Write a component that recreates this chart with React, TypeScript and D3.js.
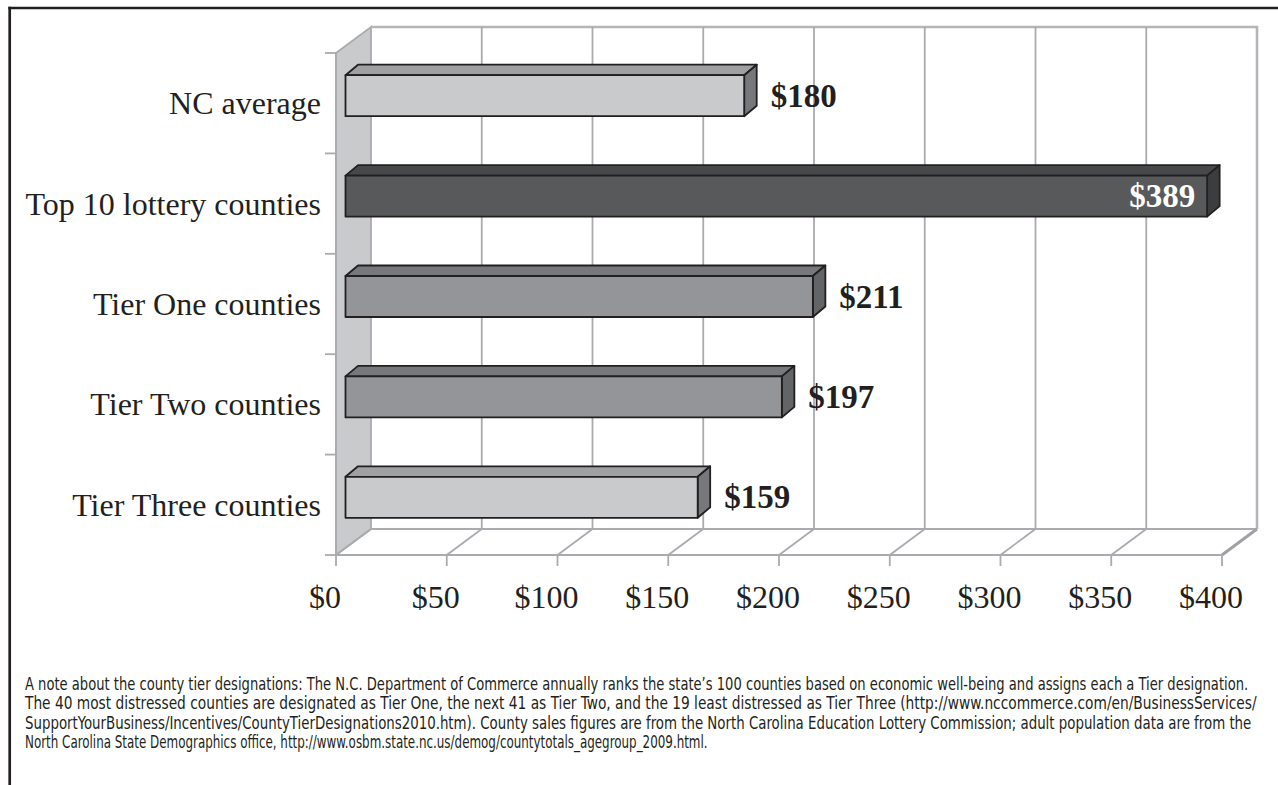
import React, { useEffect, useRef, useState } from "react";
import * as d3 from "d3";

const categories = [
  "NC average",
  "Top 10 lottery counties",
  "Tier One counties",
  "Tier Two counties",
  "Tier Three counties",
];
const values = [180, 389, 211, 197, 159];
const tickValues = [0, 50, 100, 150, 200, 250, 300, 350, 400];
const tickLabels = ["$0", "$50", "$100", "$150", "$200", "$250", "$300", "$350", "$400"];
const valueLabels = ["$180", "$389", "$211", "$197", "$159"];
const labelInside = [false, true, false, false, false];
const noteLines = [
  "A note about the county tier designations: The N.C. Department of Commerce annually ranks the state\u2019s 100 counties based on economic well-being and assigns each a Tier designation.",
  "The 40 most distressed counties are designated as Tier One, the next 41 as Tier Two, and the 19 least distressed as Tier Three (http://www.nccommerce.com/en/BusinessServices/",
  "SupportYourBusiness/Incentives/CountyTierDesignations2010.htm). County sales figures are from the North Carolina Education Lottery Commission; adult population data are from the",
  "North Carolina State Demographics office, http://www.osbm.state.nc.us/demog/countytotals_agegroup_2009.html.",
];
const noteWidths = [1223, 1232, 1226, 683];

// palettes: [front, top, side]
const shadeLight = ["#c9cacc", "#9fa0a2", "#77787b"];
const shadeDark = ["#58595b", "#47484a", "#3c3d3f"];
const shadeMid = ["#939598", "#77787b", "#636466"];
const barShades = [shadeLight, shadeDark, shadeMid, shadeMid, shadeLight];

const W = 1278;
const H = 785;
const FRONT_LEFT = 336;
const FRONT_RIGHT = 1222;
const TOP = 53;
const BOTTOM = 555;
const DX = 35;
const DY = -26;
const BAR_OFF_X = 9.5;
const BAR_OFF_Y = -7.5;
const BAR_DX = 12.5;
const BAR_DY = -10.5;
const BAR_H = 41;

const GRID = "#a9abae";
const OUTLINE = "#231f20";
const SERIF = "'Liberation Serif', 'Times New Roman', serif";
const NOTE_FONT = "'Liberation Sans Narrow', 'DejaVu Sans Condensed', 'Roboto', 'Liberation Sans', sans-serif";

function NoteLine({ text, width, x, y }: { text: string; width: number; x: number; y: number }) {
  const ref = useRef<SVGTextElement | null>(null);
  const [sx, setSx] = useState(0.8);
  useEffect(() => {
    if (ref.current) {
      const natural = ref.current.getComputedTextLength();
      if (natural > 0) setSx(width / natural);
    }
  }, [text, width]);
  return (
    <g transform={`translate(${x},${y}) scale(${sx},1)`}>
      <text ref={ref} x={0} y={0} fontFamily={NOTE_FONT} fontSize={16.8} fill={OUTLINE}>
        {text}
      </text>
    </g>
  );
}

export default function App() {
  const x = d3.scaleLinear().domain([0, 400]).range([FRONT_LEFT, FRONT_RIGHT]);
  const y = d3.scaleBand<string>().domain(categories).range([TOP, BOTTOM]).paddingInner(0).paddingOuter(0);
  const bw = y.bandwidth();
  const boundaries = d3.range(categories.length + 1).map((i) => TOP + i * bw);
  const pts = (arr: number[][]) => arr.map((p) => p.join(",")).join(" ");

  return (
    <svg
      width={W}
      height={H}
      viewBox={`0 0 ${W} ${H}`}
      style={{ position: "absolute", left: 0, top: 0, background: "#ffffff" }}
    >
      <rect x={0} y={0} width={W} height={H} fill="#ffffff" />
      {/* frame */}
      <line x1={8.3} y1={8} x2={W} y2={8} stroke={OUTLINE} strokeWidth={2.7} />
      <line x1={9.7} y1={6.7} x2={9.7} y2={H} stroke={OUTLINE} strokeWidth={2.7} />

      {/* left wall */}
      <polygon
        points={pts([
          [FRONT_LEFT, TOP],
          [FRONT_LEFT + DX, TOP + DY],
          [FRONT_LEFT + DX, BOTTOM + DY],
          [FRONT_LEFT, BOTTOM],
        ])}
        fill="#c9cacc"
        stroke={GRID}
        strokeWidth={1.8}
      />
      {/* back wall outline top and right */}
      <polyline
        points={pts([
          [FRONT_LEFT + DX, TOP + DY],
          [FRONT_RIGHT + DX, TOP + DY],
          [FRONT_RIGHT + DX, BOTTOM + DY],
        ])}
        fill="none"
        stroke="#b3b5b8"
        strokeWidth={2.6}
      />
      {/* back wall vertical gridlines */}
      {tickValues.slice(1, -1).map((t) => (
        <line
          key={"g" + t}
          x1={x(t) + DX}
          y1={TOP + DY}
          x2={x(t) + DX}
          y2={BOTTOM + DY}
          stroke={GRID}
          strokeWidth={1.8}
        />
      ))}
      {/* floor back line */}
      <line
        x1={FRONT_LEFT + DX}
        y1={BOTTOM + DY}
        x2={FRONT_RIGHT + DX}
        y2={BOTTOM + DY}
        stroke={GRID}
        strokeWidth={1.8}
      />
      {/* floor diagonals */}
      {tickValues.map((t, i) => (
        <line
          key={"d" + t}
          x1={x(t)}
          y1={BOTTOM}
          x2={x(t) + DX}
          y2={BOTTOM + DY}
          stroke={i === tickValues.length - 1 ? "#9fa1a4" : GRID}
          strokeWidth={i === tickValues.length - 1 ? 3 : 1.8}
        />
      ))}
      {/* front axis */}
      <line x1={FRONT_LEFT} y1={BOTTOM} x2={FRONT_RIGHT} y2={BOTTOM} stroke={GRID} strokeWidth={2} />
      {tickValues.map((t) => (
        <line key={"t" + t} x1={x(t)} y1={BOTTOM} x2={x(t)} y2={BOTTOM + 11} stroke={GRID} strokeWidth={1.8} />
      ))}
      {/* left axis */}
      <line x1={FRONT_LEFT} y1={TOP} x2={FRONT_LEFT} y2={BOTTOM + 1} stroke={GRID} strokeWidth={2} />
      {boundaries.map((b, i) => (
        <line key={"c" + i} x1={FRONT_LEFT - 11} y1={b} x2={FRONT_LEFT} y2={b} stroke={GRID} strokeWidth={1.8} />
      ))}

      {/* bars */}
      {categories.map((c, i) => {
        const v = values[i];
        const cy = (y(c) as number) + bw / 2 + BAR_OFF_Y;
        const x0 = x(0) + BAR_OFF_X;
        const x1 = x(v) + BAR_OFF_X;
        const y0 = cy - BAR_H / 2;
        const y1 = cy + BAR_H / 2;
        const s = barShades[i];
        return (
          <g key={c} stroke={OUTLINE} strokeWidth={1.8} strokeLinejoin="round">
            <polygon
              points={pts([
                [x0, y0],
                [x0 + BAR_DX, y0 + BAR_DY],
                [x1 + BAR_DX, y0 + BAR_DY],
                [x1, y0],
              ])}
              fill={s[1]}
            />
            <polygon
              points={pts([
                [x1, y0],
                [x1 + BAR_DX, y0 + BAR_DY],
                [x1 + BAR_DX, y1 + BAR_DY],
                [x1, y1],
              ])}
              fill={s[2]}
            />
            <rect x={x0} y={y0} width={x1 - x0} height={y1 - y0} fill={s[0]} />
          </g>
        );
      })}

      {/* value labels */}
      {categories.map((c, i) => {
        const v = values[i];
        const cy = (y(c) as number) + bw / 2 + BAR_OFF_Y;
        const inside = labelInside[i];
        return (
          <text
            key={"v" + c}
            x={inside ? x(v) + BAR_OFF_X - 12 : x(v) + BAR_OFF_X + BAR_DX + 14}
            y={cy + 11}
            textAnchor={inside ? "end" : "start"}
            fontFamily={SERIF}
            fontWeight="bold"
            fontSize={33}
            fill={inside ? "#ffffff" : OUTLINE}
          >
            {valueLabels[i]}
          </text>
        );
      })}

      {/* category labels */}
      {categories.map((c) => (
        <text
          key={"l" + c}
          x={321}
          y={(y(c) as number) + bw / 2 + 11}
          textAnchor="end"
          fontFamily={SERIF}
          fontSize={32}
          fill={OUTLINE}
        >
          {c}
        </text>
      ))}

      {/* tick labels */}
      {tickValues.map((t, i) => (
        <text
          key={"tl" + t}
          x={x(t) - 11}
          y={608}
          textAnchor="middle"
          fontFamily={SERIF}
          fontSize={32}
          fill={OUTLINE}
        >
          {tickLabels[i]}
        </text>
      ))}

      {/* note */}
      {noteLines.map((line, i) => (
        <NoteLine key={"n" + i} text={line} width={noteWidths[i]} x={25} y={690 + i * 19.4} />
      ))}
    </svg>
  );
}
